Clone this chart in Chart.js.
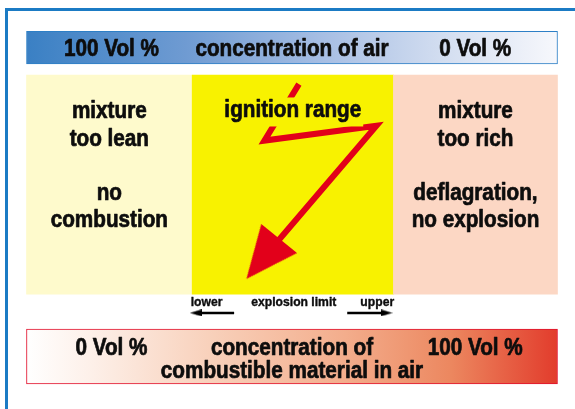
<!DOCTYPE html>
<html><head><meta charset="utf-8">
<script src="https://cdn.jsdelivr.net/npm/chart.js@4"></script>
<style>html,body{margin:0;padding:0;background:#fff}#wrap{width:575px;height:409px}</style>
</head><body><div id="wrap"><canvas id="c" width="575" height="409"></canvas></div>
<script>
// ---------------- data ----------------
const lowerExplosionLimit = 31.2;   // schematic position on the 0–100 Vol % axis
const upperExplosionLimit = 69.1;
const zoneNames  = ['mixture too lean', 'ignition range', 'mixture too rich'];
const zoneStart  = [0, lowerExplosionLimit, upperExplosionLimit];
const zoneEnd    = [lowerExplosionLimit, upperExplosionLimit, 100];
const zoneLabels = [
  ['mixture', 'too lean', '', 'no', 'combustion'],
  ['ignition range'],
  ['mixture', 'too rich', '', 'deflagration,', 'no explosion']
];
const airAxisLabels = ['100 Vol %', 'concentration of air', '0 Vol %'];
const combustibleAxisLabels = [['0 Vol %'], ['concentration of', 'combustible material in air'], ['100 Vol %']];
const axisLabelPositions = [16, 50, 84.5];
const limitLabels = ['lower', 'explosion limit', 'upper'];
const ignitionZigzagX = [51.3, 44.8, 65.9, 44.5];
const ignitionZigzagY = [78, 137.3, 121.6, 261.5];

// ---------------- layout / style ----------------
const ROWS = {
  air: { y: 39.5, h: 32.5 },
  zones: { y: 183.6, h: 219.3 },
  comb: { y: 364.3, h: 54.7 },
  limitText: 311,
  limitArrow: 318.5
};
const ZONE_COLORS = ['#fefacc', '#f8f200', '#fcd7c4'];
const RED = '#e2001a';
const FONT = '"Liberation Sans", Arial, sans-serif';

function triCanvas(w, h, color) {
  const c = document.createElement('canvas');
  c.width = w; c.height = h;
  const g = c.getContext('2d');
  g.fillStyle = color;
  g.beginPath(); g.moveTo(w / 2, 0); g.lineTo(w, h); g.lineTo(0, h); g.closePath(); g.fill();
  return c;
}
const bigHead = triCanvas(46, 52, RED);
const smallHead = triCanvas(7, 12, '#000');

function gradient(stops) {
  return (ctx) => {
    const chart = ctx.chart;
    if (!chart.chartArea) return stops[0][1];
    const xs = chart.scales.x;
    const g = chart.ctx.createLinearGradient(xs.getPixelForValue(0), 0, xs.getPixelForValue(100), 0);
    stops.forEach(s => g.addColorStop(s[0], s[1]));
    return g;
  };
}

function drawTxt(ctx, text, x, y, size, align, sx, stroke) {
  ctx.save();
  ctx.font = 'bold ' + size + 'px ' + FONT;
  ctx.textAlign = align;
  ctx.textBaseline = 'alphabetic';
  ctx.fillStyle = '#0d0d0d';
  ctx.strokeStyle = '#0d0d0d';
  ctx.lineWidth = stroke;
  ctx.lineJoin = 'round';
  ctx.translate(x, y);
  ctx.scale(sx, 1);
  ctx.fillText(text, 0, 0);
  if (stroke > 0) ctx.strokeText(text, 0, 0);
  ctx.restore();
}

const framePlugin = {
  id: 'frame',
  beforeDraw(chart) {
    const ctx = chart.ctx;
    ctx.save();
    ctx.fillStyle = '#1b7bc4';
    ctx.fillRect(5, 8, 3, 401);
    ctx.fillRect(5, 8, 570, 3);
    ctx.restore();
  }
};

const textPlugin = {
  id: 'texts',
  afterDatasetsDraw(chart) {
    const ctx = chart.ctx;
    const xs = chart.scales.x, ys = chart.scales.y;
    const SX = 0.9, BIG = 23, SMALL = 13.5, ST = 0.7;
    // top bar
    airAxisLabels.forEach((t, i) => drawTxt(ctx, t, xs.getPixelForValue(axisLabelPositions[i]), ys.getPixelForValue(48.3), BIG, 'center', SX, ST));
    // bottom bar
    combustibleAxisLabels.forEach((lines, i) => lines.forEach((t, j) =>
      drawTxt(ctx, t, xs.getPixelForValue(axisLabelPositions[i]), ys.getPixelForValue(362.7 + j * 24), BIG, 'center', SX, ST)));
    // zones
    zoneLabels.forEach((lines, i) => {
      const cx = xs.getPixelForValue((zoneStart[i] + zoneEnd[i]) / 2);
      lines.forEach((t, j) => {
        if (!t) return;
        const y = ys.getPixelForValue(i === 1 ? 113 : 114 + j * 28.5);
        if (i === 1) {
          ctx.save();
          ctx.font = 'bold ' + BIG + 'px ' + FONT;
          const w = ctx.measureText(t).width * SX;
          ctx.fillStyle = ZONE_COLORS[1];
          ctx.fillRect(cx - w / 2 - 2, y - 20, w + 4, 29);
          ctx.restore();
        }
        drawTxt(ctx, t, cx, y, BIG, 'center', SX, ST);
      });
    });
    // explosion limits
    const ly = ys.getPixelForValue(ROWS.limitText);
    drawTxt(ctx, limitLabels[0], xs.getPixelForValue(lowerExplosionLimit) - 1.5, ly, SMALL, 'left', SX, 0.4);
    drawTxt(ctx, limitLabels[1], xs.getPixelForValue((lowerExplosionLimit + upperExplosionLimit) / 2) + 1, ly, SMALL, 'center', SX, 0.4);
    drawTxt(ctx, limitLabels[2], xs.getPixelForValue(upperExplosionLimit) + 0.7, ly, SMALL, 'right', SX, 0.4);
  }
};

const barCommon = { type: 'bar', indexAxis: 'y', borderSkipped: false, clip: false, order: 5 };

new Chart(document.getElementById('c'), {
  type: 'bar',
  data: {
    datasets: [
      Object.assign({}, barCommon, {
        label: 'concentration of air',
        data: [{ x: [0, 100], y: ROWS.air.y }],
        barThickness: ROWS.air.h,
        backgroundColor: gradient([[0, '#3a80c4'], [0.3, '#6f9bd2'], [0.55, '#a5bde3'], [0.78, '#d2ddf0'], [1, '#f7f8fc']]),
        borderColor: '#2d7fc6', borderWidth: 1
      }),
      Object.assign({}, barCommon, {
        label: 'zones',
        data: zoneNames.map((n, i) => ({ x: [zoneStart[i], zoneEnd[i]], y: ROWS.zones.y })),
        barThickness: ROWS.zones.h,
        backgroundColor: ZONE_COLORS,
        borderWidth: 0
      }),
      Object.assign({}, barCommon, {
        label: 'concentration of combustible material in air',
        data: [{ x: [0, 100], y: ROWS.comb.y }],
        barThickness: ROWS.comb.h,
        backgroundColor: gradient([[0, '#ffffff'], [0.12, '#fdf0e9'], [0.35, '#f8d0ba'], [0.6, '#f3ad8c'], [0.8, '#ec875f'], [1, '#e23c2c']]),
        borderColor: '#e2102c', borderWidth: 1
      }),
      {
        type: 'line', indexAxis: 'y', label: 'ignition', order: 1, clip: false,
        data: ignitionZigzagX.map((x, i) => ({ x, y: ignitionZigzagY[i] })),
        borderColor: RED, borderWidth: 6, borderJoinStyle: 'miter', borderCapStyle: 'butt',
        tension: 0, fill: false,
        pointRadius: [0, 0, 0, 1], pointStyle: bigHead, pointRotation: 219
      },
      {
        type: 'line', indexAxis: 'y', label: 'lower limit', order: 1, clip: false,
        data: [{ x: lowerExplosionLimit + 0.7, y: ROWS.limitArrow }, { x: lowerExplosionLimit + 7.9, y: ROWS.limitArrow }],
        borderColor: '#000', borderWidth: 2.5, borderCapStyle: 'butt', fill: false,
        pointRadius: [1, 0], pointStyle: smallHead, pointRotation: 270
      },
      {
        type: 'line', indexAxis: 'y', label: 'upper limit', order: 1, clip: false,
        data: [{ x: upperExplosionLimit - 8.7, y: ROWS.limitArrow }, { x: upperExplosionLimit - 1.3, y: ROWS.limitArrow }],
        borderColor: '#000', borderWidth: 2.5, borderCapStyle: 'butt', fill: false,
        pointRadius: [0, 1], pointStyle: smallHead, pointRotation: 90
      }
    ]
  },
  options: {
    responsive: false,
    animation: false,
    devicePixelRatio: 1,
    events: [],
    indexAxis: 'y',
    layout: { padding: { left: 26.5, right: 17.5, top: 0, bottom: 0 } },
    plugins: { legend: { display: false }, tooltip: { enabled: false } },
    scales: {
      x: { type: 'linear', min: 0, max: 100, display: false, stacked: false, offset: false },
      y: { type: 'linear', min: 0, max: 409, reverse: true, display: false, stacked: true, offset: false }
    }
  },
  plugins: [framePlugin, textPlugin]
});
</script>
</body></html>
